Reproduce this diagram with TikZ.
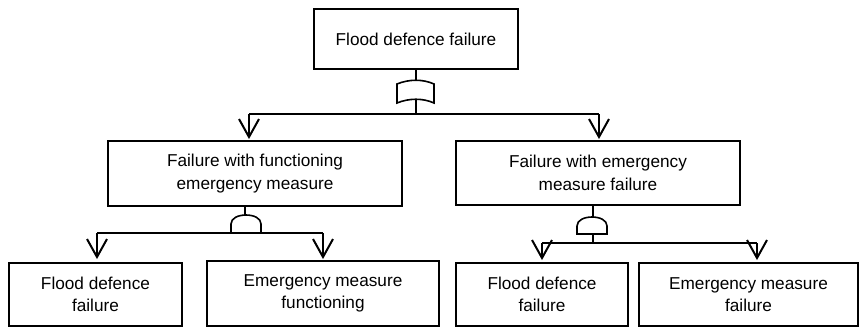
\documentclass[tikz,border=0pt]{standalone}
\usepackage{fontspec}
\setmainfont{Liberation Sans}
\begin{document}
\begin{tikzpicture}[x=1pt,y=-1pt,
  box/.style={draw,line width=1.3pt,inner sep=0pt,align=center,font=\fontsize{17.2}{22.5}\selectfont},
  conn/.style={line width=2pt},
  bar/.style={line width=2.4pt},
  gate/.style={draw,line width=1.6pt,fill=white},
  vtip/.pic={\draw[line width=2pt,line join=miter] (-10,-18) -- (0,0) -- (10,-18);}
]
\useasboundingbox (0,0) rectangle (861,327);
% boxes
\node[box,minimum width=204pt,minimum height=60pt] (top) at (416,39) {Flood defence failure};
\node[box,minimum width=294pt,minimum height=65pt] (mL) at (255,173.5) {Failure with functioning\\emergency measure};
\node[box,minimum width=284pt,minimum height=64pt] (mR) at (598,173) {Failure with emergency\\measure failure};
\node[box,minimum width=173pt,minimum height=63pt] (b1) at (95.5,294.5) {Flood defence\\failure};
\node[box,minimum width=232pt,minimum height=65pt] (b2) at (323,293.5) {Emergency measure\\functioning};
\node[box,minimum width=172pt,minimum height=63pt] (b3) at (542,294.5) {Flood defence\\failure};
\node[box,minimum width=219pt,minimum height=63pt] (b4) at (748.5,294.5) {Emergency measure\\failure};

% top OR gate
\coordinate (g0in) at (416,81);
\coordinate (g0out) at (416,100);
\coordinate (bar0) at (416,114);
\coordinate (bar0L) at (249,114);
\coordinate (bar0R) at (599,114);
\coordinate (t0L) at (249,137);
\coordinate (t0R) at (599,137);
\draw[conn] (top.south) -- (g0in);
\draw[conn] (g0out) -- (bar0);
\draw[bar] (bar0L) -- (bar0R);
\draw[conn] (bar0L) -- (t0L);
\draw[conn] (bar0R) -- (t0R);
\pic at (t0L) {vtip};
\pic at (t0R) {vtip};
\draw[gate] (397,84) .. controls (409,79) and (423,79) .. (434,84) -- (434,103)
  .. controls (423,98) and (409,98) .. (397,103) -- cycle;

% left AND gate
\coordinate (g1in) at (245,215);
\coordinate (bar1) at (245,233);
\coordinate (bar1L) at (97,233);
\coordinate (bar1R) at (323,233);
\coordinate (t1L) at (97,257);
\coordinate (t1R) at (323,257);
\draw[conn] (mL.south -| g1in) -- (g1in);
\draw[bar] (bar1L) -- (bar1R);
\draw[conn] (bar1L) -- (t1L);
\draw[conn] (bar1R) -- (t1R);
\pic at (t1L) {vtip};
\pic at (t1R) {vtip};
\draw[gate] (231,233) -- (231,224) .. controls (231,212) and (261,212) .. (261,224) -- (261,233) -- cycle;

% right AND gate
\coordinate (g2in) at (593,217);
\coordinate (g2out) at (593,234);
\coordinate (bar2) at (593,243);
\coordinate (bar2L) at (542,243);
\coordinate (bar2R) at (757,243);
\coordinate (t2L) at (542,258);
\coordinate (t2R) at (757,258);
\draw[conn] (mR.south -| g2in) -- (g2in);
\draw[conn] (g2out) -- (bar2);
\draw[bar] (bar2L) -- (bar2R);
\draw[conn] (bar2L) -- (t2L);
\draw[conn] (bar2R) -- (t2R);
\pic at (t2L) {vtip};
\pic at (t2R) {vtip};
\draw[gate] (577,234) -- (577,226) .. controls (577,214) and (607,214) .. (607,226) -- (607,234) -- cycle;
\end{tikzpicture}
\end{document}
